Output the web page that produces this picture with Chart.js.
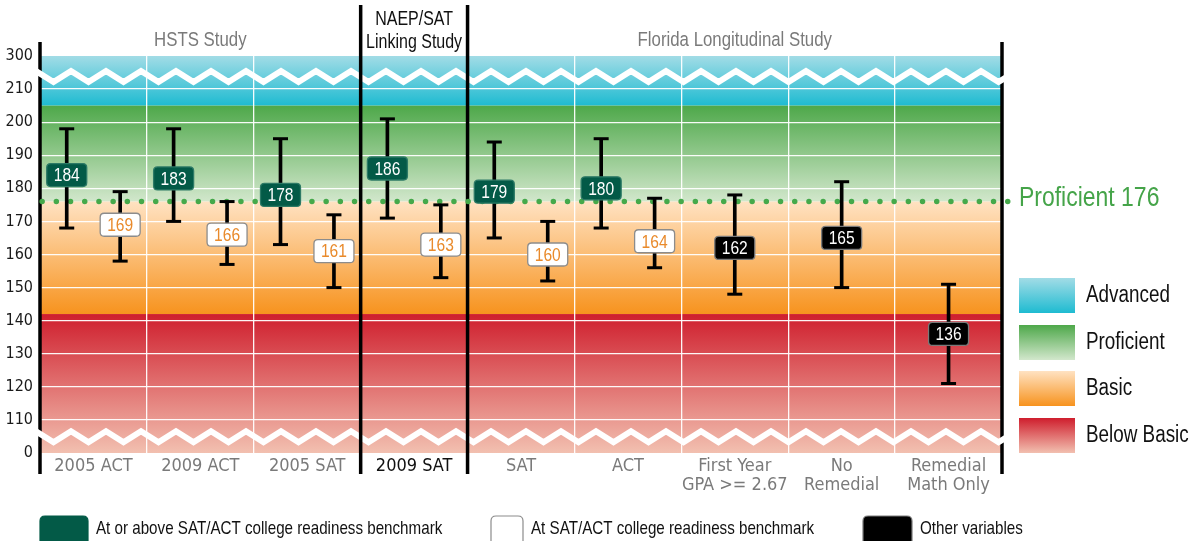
<!DOCTYPE html>
<html><head><meta charset="utf-8">
<script src="https://cdn.jsdelivr.net/npm/chart.js@4"></script>
<style>html,body{margin:0;padding:0;background:#fff}#wrap{width:1195px;height:541px;position:relative}</style>
</head><body><div id="wrap"><canvas id="c"></canvas></div>
<script>
// ---------- data ----------
const categories = ["2005 ACT","2009 ACT","2005 SAT","2009 SAT","SAT","ACT",["First Year","GPA >= 2.67"],["No","Remedial"],["Remedial","Math Only"]];
const studyNames = ["HSTS Study", ["NAEP/SAT","Linking Study"], "Florida Longitudinal Study"];
const studyFirstCat = [0, 3, 4];
const studyLastCat = [2, 3, 8];
const groupIndex = [0,0,1,1,2,2,3,3,4,4,5,5,6,7,8];
const means = [184,169,183,166,178,161,186,163,179,160,180,164,162,165,136];
const lows  = [168,158,170,157,163,150,171,153,165,152,168,156,148,150,121];
const highs = [198,179,198,176,195,172,201,175,194,170,195,177,178,182,151];
const kinds = ["above","at","above","at","above","at","above","at","above","at","above","at","other","other","other"];
const proficientCut = 176;
const levelNames = ["Advanced","Proficient","Basic","Below Basic"];
const levelFrom = [205, 176, 142, 100];   // axis units (100 = shown as 0 after break)
const levelTo   = [220, 205, 176, 142];   // 220 = shown as 300 after break
const yTicks = [0,110,120,130,140,150,160,170,180,190,200,210,300];
const legendKindLabels = ["At or above SAT/ACT college readiness benchmark","At SAT/ACT college readiness benchmark","Other variables"];

// ---------- derived ----------
const groupCount = {};
groupIndex.forEach(g => groupCount[g] = (groupCount[g]||0)+1);
const seen = {};
const xs = groupIndex.map(g => {
  const k = seen[g] = (seen[g]||0)+1;
  if (groupCount[g] === 1) return g + 0.5;
  return g + (k === 1 ? 0.25 : 0.75);
});
const axisMin = 100, axisMax = 220;
function tickText(v){
  const i = Math.round((v - axisMin)/10);
  return yTicks[i] !== undefined ? String(yTicks[i]) : '';
}

const TICKFONT = '"DejaVu Sans Condensed","Liberation Sans",sans-serif';
const ARIAL = '"Liberation Sans",Arial,sans-serif';
const bandColors = [['#a2dce6','#1ebbd1'],['#4ea84a','#d2e7cc'],['#ffe2c2','#f7931e'],['#cf1e2d','#f2c0b0']];
const kindStyle = {
  above:{fill:'#035a47', stroke:'#2d7a66', text:'#ffffff'},
  at:{fill:'#ffffff', stroke:'#8c8c8c', text:'#e98a2b'},
  other:{fill:'#000000', stroke:'#7a7a7a', text:'#ffffff'}
};

// narrow text: Liberation Sans squeezed to 82% width (metrics of Arial Narrow)
function narrowText(ctx, text, x, y, size, color, align){
  ctx.save();
  ctx.font = size + 'px ' + ARIAL;
  ctx.fillStyle = color;
  ctx.textBaseline = 'middle';
  ctx.textAlign = align || 'left';
  ctx.translate(x, y);
  ctx.scale(0.82, 1);
  ctx.fillText(text, 0, 0);
  ctx.restore();
}

function rr(ctx,x,y,w,h,r){
  ctx.beginPath();
  ctx.moveTo(x+r,y);ctx.lineTo(x+w-r,y);ctx.quadraticCurveTo(x+w,y,x+w,y+r);
  ctx.lineTo(x+w,y+h-r);ctx.quadraticCurveTo(x+w,y+h,x+w-r,y+h);
  ctx.lineTo(x+r,y+h);ctx.quadraticCurveTo(x,y+h,x,y+h-r);
  ctx.lineTo(x,y+r);ctx.quadraticCurveTo(x,y,x+r,y);ctx.closePath();
}
function vgrad(ctx,y0,y1,c0,c1){
  const g = ctx.createLinearGradient(0,y0,0,y1);
  g.addColorStop(0,c0); g.addColorStop(1,c1); return g;
}

const bgPlugin = {
  id:'bg',
  beforeDraw(chart){
    const {ctx, chartArea:a, scales:{y}} = chart;
    ctx.save();
    levelNames.forEach((n,i)=>{
      const yt = y.getPixelForValue(levelTo[i]), yb = y.getPixelForValue(levelFrom[i]);
      ctx.fillStyle = vgrad(ctx,yt,yb,bandColors[i][0],bandColors[i][1]);
      ctx.fillRect(a.left, yt, a.right-a.left, yb-yt);
    });
    ctx.restore();
  },
  beforeDatasetsDraw(chart){
    const {ctx, chartArea:a, scales:{y, xv}} = chart;
    ctx.save();
    ctx.strokeStyle = '#000'; ctx.lineWidth = 3.5;
    [a.left, a.right].forEach(x=>{ctx.beginPath();ctx.moveTo(x,42);ctx.lineTo(x,474);ctx.stroke();});
    // axis-break zigzags
    ctx.strokeStyle = '#fff'; ctx.lineWidth = 6; ctx.lineJoin = 'miter';
    [213.8, 104.9].forEach(v=>{
      const yc = y.getPixelForValue(v);
      const start = 36;
      ctx.save(); ctx.beginPath(); ctx.rect(a.left-3, yc-20, a.right-a.left+8, 40); ctx.clip();
      ctx.beginPath(); let up = true;
      for (let px = start; px <= a.right + 20; px += 17.5) {
        const py = up ? yc - 5.5 : yc + 5.5;
        if (px === start) ctx.moveTo(px,py); else ctx.lineTo(px, py); up = !up;
      }
      ctx.stroke(); ctx.restore();
    });
    // study separators
    ctx.strokeStyle = '#000'; ctx.lineWidth = 3.5;
    [3,4].forEach(v=>{const x = xv.getPixelForValue(v);ctx.beginPath();ctx.moveTo(x,5);ctx.lineTo(x,474);ctx.stroke();});
    ctx.restore();
  },
  afterDatasetsDraw(chart){
    const {ctx} = chart;
    const idx = chart.data.datasets.findIndex(d=>d.id==='means');
    const meta = chart.getDatasetMeta(idx);
    ctx.save();
    meta.data.forEach((pt,i)=>{
      const s = kindStyle[kinds[i]];
      const w = 40, h = 23;
      rr(ctx, pt.x-w/2, pt.y-h/2, w, h, 4);
      ctx.fillStyle = s.fill; ctx.fill();
      ctx.lineWidth = 1.3; ctx.strokeStyle = s.stroke; ctx.stroke();
      narrowText(ctx, String(means[i]), pt.x, pt.y+1, 19, s.text, 'center');
    });
    ctx.restore();
  },
  afterDraw(chart){
    const {ctx, scales:{y, xv}} = chart;
    ctx.save();
    studyNames.forEach((n,i)=>{
      const cx = (xv.getPixelForValue(studyFirstCat[i]) + xv.getPixelForValue(studyLastCat[i]+1))/2;
      if (Array.isArray(n)) {
        narrowText(ctx, n[0], cx, 20, 19.5, '#111', 'center');
        narrowText(ctx, n[1], cx, 43, 19.5, '#111', 'center');
      } else {
        narrowText(ctx, n, cx, 40, 20.5, '#7a7a7a', 'center');
      }
    });
    // proficient label
    narrowText(ctx, 'Proficient ' + proficientCut, 1019, y.getPixelForValue(proficientCut) - 3, 28, '#45a449', 'left');
    // level legend
    const tops = [278, 325, 371, 418];
    levelNames.forEach((n,i)=>{
      ctx.fillStyle = vgrad(ctx,tops[i],tops[i]+35,bandColors[i][0],bandColors[i][1]);
      ctx.fillRect(1019, tops[i], 56, 35);
      narrowText(ctx, n, 1086, tops[i]+18, 23, '#111', 'left');
    });
    // kind legend
    const bx = [40, 491, 863], bw = [48, 32, 49], tx = [96, 531, 920];
    ['above','at','other'].forEach((k,i)=>{
      const s = kindStyle[k];
      rr(ctx, bx[i], 516, bw[i], 32, 5);
      ctx.fillStyle = s.fill; ctx.fill();
      ctx.lineWidth = 1.2; ctx.strokeStyle = k==='above' ? s.fill : s.stroke; ctx.stroke();
      narrowText(ctx, legendKindLabels[i], tx[i], 529, 18.5, '#111', 'left');
    });
    ctx.restore();
  }
};

new Chart(document.getElementById('c'), {
  data: {
    labels: categories,
    datasets: [
      { type:'line', id:'cut', xAxisID:'xv', data:[{x:0.02,y:proficientCut},{x:9.06,y:proficientCut}],
        borderColor:'#45a94a', borderWidth:5.5, borderDash:[0,14.2], borderCapStyle:'round',
        pointRadius:0, clip:false, order:5 },
      { type:'bar', id:'ranges', xAxisID:'xv', data: xs.map((x,i)=>({x, y:[lows[i], highs[i]]})),
        backgroundColor:'#000', barThickness:3, order:4 },
      { type:'scatter', id:'caps', xAxisID:'xv', data: xs.flatMap((x,i)=>[{x,y:lows[i]},{x,y:highs[i]}]),
        pointStyle:'line', pointRadius:7.5, pointHoverRadius:7.5, borderColor:'#000', borderWidth:3, order:3 },
      { type:'scatter', id:'means', xAxisID:'xv', data: xs.map((x,i)=>({x, y:means[i]})),
        pointRadius:0, pointHoverRadius:0, order:1 }
    ]
  },
  options: {
    responsive:true, maintainAspectRatio:false, animation:false,
    events:[],
    layout:{ padding:{left:0, right:193, top:56, bottom:0} },
    plugins:{ legend:{display:false}, tooltip:{enabled:false} },
    scales:{
      xv:{ type:'linear', min:0, max:9, offset:false, display:false },
      x:{ type:'category', offset:true,
          grid:{ offset:true, color:'rgba(255,255,255,0.95)', lineWidth:1.3, drawTicks:false },
          border:{ display:false },
          ticks:{ autoSkip:false, maxRotation:0, padding:3,
                  font:{ family:TICKFONT, size:18, lineHeight:1.1 },
                  color:(c)=> c.index===3 ? '#111' : '#7a7a7a' },
          afterFit:(s)=>{ s.height = 88; } },
      y:{ type:'linear', min:axisMin, max:axisMax,
          grid:{ color:(c)=> (c.tick.value===axisMin||c.tick.value===axisMax) ? 'rgba(0,0,0,0)' : 'rgba(255,255,255,0.95)', lineWidth:1.3, drawTicks:false },
          border:{ display:false },
          ticks:{ stepSize:10, padding:7, font:{ family:TICKFONT, size:16 }, color:'#1a1a1a', callback:(v)=>tickText(v) },
          afterFit:(s)=>{ s.width = 40; } }
    }
  },
  plugins:[bgPlugin]
});
</script></body></html>
